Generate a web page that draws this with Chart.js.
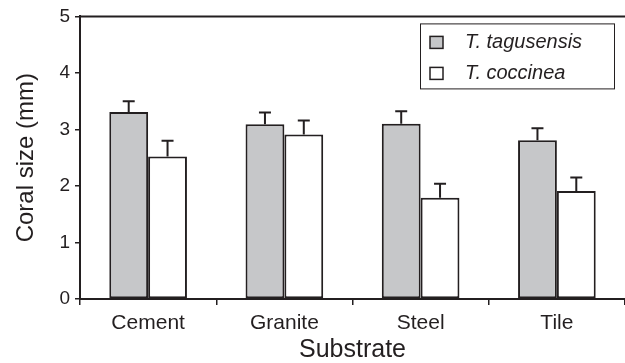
<!DOCTYPE html>
<html>
<head>
<meta charset="utf-8">
<script src="https://cdn.jsdelivr.net/npm/chart.js@4/dist/chart.umd.min.js"></script>
<style>
    html, body { margin: 0; padding: 0; background: #fff; }
    #wrap { width: 625px; height: 363px; position: relative; }
</style>
</head>
<body>
<div id="wrap"><canvas id="coralChart"></canvas></div>
<script>
// Data
const substrates = ['Cement', 'Granite', 'Steel', 'Tile'];
const seriesNames = ['T. tagusensis', 'T. coccinea'];
const tagusensis = [3.31, 3.09, 3.10, 2.81];
const tagusensisErr = [0.19, 0.21, 0.22, 0.21];
const coccinea = [2.52, 2.91, 1.79, 1.91];
const coccineaErr = [0.28, 0.25, 0.25, 0.24];
const yTicks = [0, 1, 2, 3, 4, 5];

const ink = '#231f20';
const grayFill = '#c6c7c9';
const fontFamily = '"Liberation Sans", Arial, Helvetica, sans-serif';

// upward-only error bars with a small cap
const errorBars = {
    id: 'errorBars',
    afterDatasetsDraw(chart) {
        const ctx = chart.ctx;
        const y = chart.scales.y;
        chart.data.datasets.forEach((ds, i) => {
            const meta = chart.getDatasetMeta(i);
            meta.data.forEach((bar, j) => {
                const top = y.getPixelForValue(ds.data[j] + ds.errors[j]);
                ctx.save();
                ctx.strokeStyle = ink;
                ctx.lineWidth = 2;
                ctx.beginPath();
                ctx.moveTo(bar.x, bar.y);
                ctx.lineTo(bar.x, top);
                ctx.moveTo(bar.x - 6, top);
                ctx.lineTo(bar.x + 6, top);
                ctx.stroke();
                ctx.restore();
            });
        });
    }
};

// top frame line + boxed legend inside the plot
const frameAndLegend = {
    id: 'frameAndLegend',
    afterDraw(chart) {
        const ctx = chart.ctx;
        const a = chart.chartArea;
        ctx.save();
        ctx.strokeStyle = ink;
        ctx.lineWidth = 2;
        ctx.beginPath();
        ctx.moveTo(a.left, a.top);
        ctx.lineTo(chart.width, a.top);
        ctx.stroke();

        const bx = a.right - 205, by = a.top + 7, bw = 194, bh = 65;
        ctx.lineWidth = 1;
        ctx.strokeRect(bx + 0.5, by + 0.5, bw, bh);
        ctx.font = 'italic 20px ' + fontFamily;
        ctx.textBaseline = 'middle';
        chart.data.datasets.forEach((ds, i) => {
            const cy = by + 19 + i * 31;
            ctx.fillStyle = ds.backgroundColor;
            ctx.fillRect(bx + 10, cy - 6, 13, 12);
            ctx.lineWidth = 1.5;
            ctx.strokeRect(bx + 10, cy - 6, 13, 12);
            ctx.fillStyle = ink;
            ctx.fillText(ds.label, bx + 45, cy);
        });
        ctx.restore();
    }
};

new Chart(document.getElementById('coralChart'), {
    type: 'bar',
    data: {
        labels: substrates,
        datasets: [
            {
                label: seriesNames[0],
                data: tagusensis,
                errors: tagusensisErr,
                backgroundColor: grayFill,
                borderColor: ink,
                borderWidth: 2,
                borderSkipped: false
            },
            {
                label: seriesNames[1],
                data: coccinea,
                errors: coccineaErr,
                backgroundColor: '#ffffff',
                borderColor: ink,
                borderWidth: 2,
                borderSkipped: false
            }
        ]
    },
    options: {
        responsive: true,
        maintainAspectRatio: false,
        animation: false,
        layout: { padding: { top: 12, right: 0, left: 0, bottom: 0 } },
        datasets: {
            bar: { categoryPercentage: 0.57, barPercentage: 1.0 }
        },
        plugins: {
            legend: { display: false },
            tooltip: { enabled: false }
        },
        scales: {
            x: {
                grid: {
                    offset: true,
                    drawOnChartArea: false,
                    drawTicks: true,
                    tickLength: 6,
                    color: ink,
                    lineWidth: 1.5
                },
                border: { display: true, color: ink, width: 2 },
                ticks: {
                    color: ink,
                    padding: 6,
                    font: { family: fontFamily, size: 21 }
                },
                title: {
                    display: true,
                    text: 'Substrate',
                    color: ink,
                    padding: { top: 0, bottom: 0 },
                    font: { family: fontFamily, size: 25, lineHeight: 1.0 }
                },
                afterFit: (scale) => { scale.height = 64; }
            },
            y: {
                min: 0,
                max: 5,
                afterBuildTicks: (scale) => {
                    scale.ticks = yTicks.map(v => ({ value: v }));
                },
                grid: {
                    drawOnChartArea: false,
                    drawTicks: true,
                    tickLength: 5,
                    color: ink,
                    lineWidth: 1.5
                },
                border: { display: true, color: ink, width: 2 },
                ticks: {
                    color: ink,
                    padding: 5,
                    font: { family: fontFamily, size: 19 }
                },
                title: {
                    display: true,
                    text: 'Coral size (mm)',
                    color: ink,
                    padding: { top: 14, bottom: 0 },
                    font: { family: fontFamily, size: 24, lineHeight: 1.0 }
                },
                afterFit: (scale) => { scale.width = 80; }
            }
        }
    },
    plugins: [errorBars, frameAndLegend]
});
</script>
</body>
</html>
